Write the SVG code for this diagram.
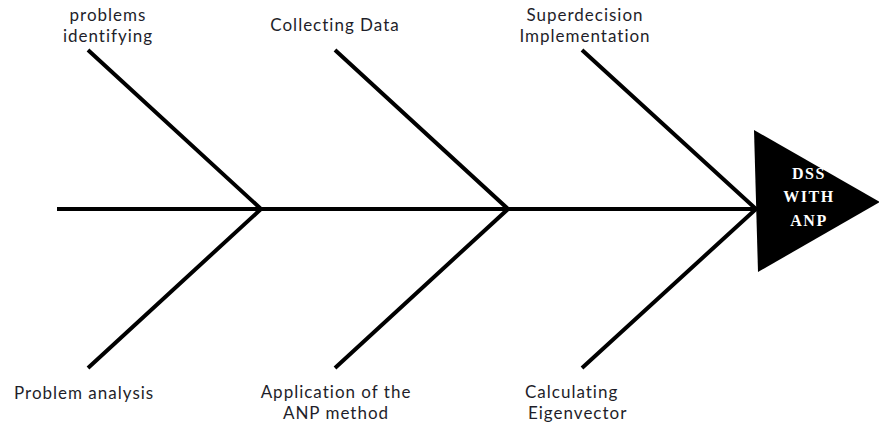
<svg xmlns="http://www.w3.org/2000/svg" width="879" height="423" viewBox="0 0 879 423">
<style>
.bone{stroke:#000;stroke-width:4;fill:none;stroke-linecap:butt}
.lbl{font-family:Lato,"Open Sans",sans-serif;font-size:17px;fill:#1e1e2a;letter-spacing:1px}
.head{font-family:"Liberation Serif","DejaVu Serif",serif;font-weight:bold;font-size:16px;fill:#fff;letter-spacing:1.5px}
</style>
<rect width="879" height="423" fill="#fff"/>
<g id="connectors">
<line class="bone" x1="57" y1="209" x2="756" y2="209"/>
<polyline class="bone" points="88,50 261,209 88,368"/>
<polyline class="bone" points="335,50 508,209 335,368"/>
<polyline class="bone" points="582,50 756,209 582,368"/>
</g>
<g id="dss">
<polygon points="754,130 880,202 758,272" fill="#000"/>
<text class="head" text-anchor="middle" x="809" y="179">DSS</text>
<text class="head" text-anchor="middle" x="809" y="202">WITH</text>
<text class="head" text-anchor="middle" x="809" y="226">ANP</text>
</g>
<g id="problems-identifying">
<text class="lbl" text-anchor="middle" x="108" y="21">problems</text>
<text class="lbl" text-anchor="middle" x="108" y="42">identifying</text>
</g>
<g id="collecting-data">
<text class="lbl" text-anchor="middle" x="335" y="31">Collecting Data</text>
</g>
<g id="superdecision">
<text class="lbl" text-anchor="middle" x="585" y="21">Superdecision</text>
<text class="lbl" text-anchor="middle" x="585" y="42">Implementation</text>
</g>
<g id="problem-analysis">
<text class="lbl" x="14" y="399">Problem analysis</text>
</g>
<g id="application">
<text class="lbl" text-anchor="middle" x="336" y="398">Application of the</text>
<text class="lbl" text-anchor="middle" x="336" y="419">ANP method</text>
</g>
<g id="eigenvector">
<text class="lbl" x="525" y="398">Calculating</text>
<text class="lbl" x="528" y="419">Eigenvector</text>
</g>
</svg>
